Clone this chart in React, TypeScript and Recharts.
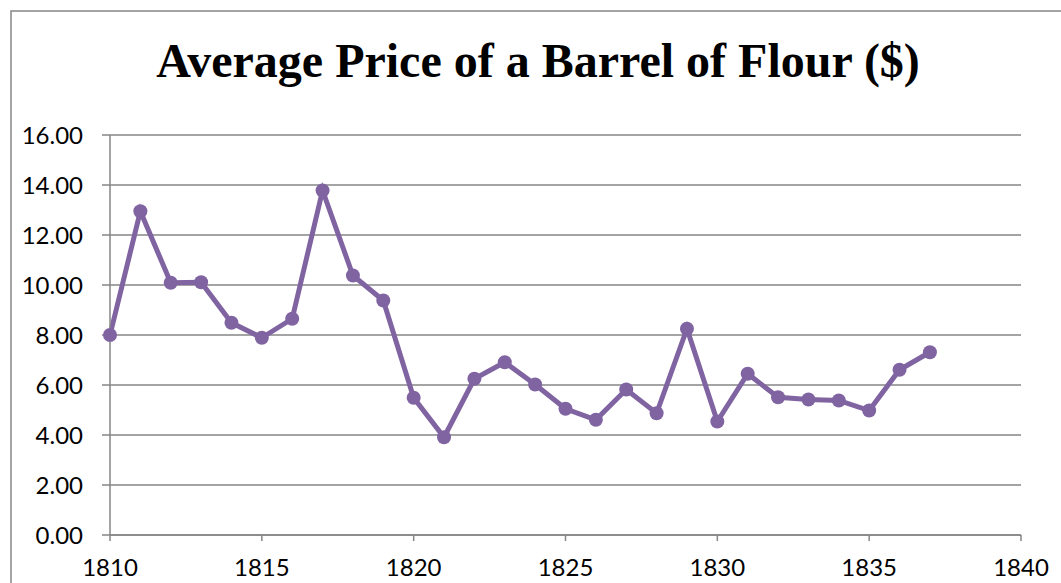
import { LineChart, Line, XAxis, YAxis, CartesianGrid } from "recharts"

const years = [
  1810, 1811, 1812, 1813, 1814, 1815, 1816, 1817, 1818, 1819, 1820, 1821, 1822, 1823,
  1824, 1825, 1826, 1827, 1828, 1829, 1830, 1831, 1832, 1833, 1834, 1835, 1836, 1837,
]
const prices = [
  8.0, 12.95, 10.09, 10.11, 8.49, 7.89, 8.65, 13.78, 10.38, 9.38, 5.49, 3.91, 6.25, 6.91,
  6.02, 5.05, 4.61, 5.82, 4.87, 8.25, 4.54, 6.45, 5.51, 5.42, 5.38, 4.98, 6.61, 7.31,
]
const yTicks = [0, 2, 4, 6, 8, 10, 12, 14, 16]
const xTicks = [1810, 1815, 1820, 1825, 1830, 1835, 1840]
const title = "Average Price of a Barrel of Flour ($)"

const chartData = years.map((year, i) => ({ year, price: prices[i] }))

const gray = "#868686"
const purple = "#8064A2"
const tickFont = { fontFamily: "Lato", fontSize: 24, fill: "#000" }

export default function App() {
  return (
    <div style={{ position: "absolute", left: 0, top: 0, width: 1061, height: 583, background: "#fff", overflow: "hidden" }}>
      <svg width={1061} height={583} style={{ position: "absolute", left: 0, top: 0 }}>
        <rect x={11} y={11} width={1200} height={800} fill="none" stroke={gray} strokeWidth={1.5} />
        <text x={538} y={77} textAnchor="middle" fontFamily="Liberation Serif" fontWeight="bold" fontSize={48} fill="#000">
          {title}
        </text>
      </svg>
      <div style={{ position: "absolute", left: 0, top: 0 }}>
        <LineChart width={1061} height={583} data={chartData} margin={{ top: 135, right: 40, bottom: 0, left: 0 }}>
          <CartesianGrid vertical={false} stroke={gray} strokeWidth={1.5} />
          <XAxis
            dataKey="year"
            type="number"
            domain={[1810, 1840]}
            ticks={xTicks}
            height={48}
            tickSize={6}
            tickMargin={18}
            tick={tickFont}
            stroke={gray}
            strokeWidth={1.5}
            interval={0}
          />
          <YAxis
            domain={[0, 16]}
            ticks={yTicks}
            width={110}
            tickSize={8}
            tickMargin={19}
            tick={tickFont}
            tickFormatter={(v: number) => v.toFixed(2)}
            stroke={gray}
            strokeWidth={1.5}
            interval={0}
          />
          <Line
            dataKey="price"
            stroke={purple}
            strokeWidth={5}
            dot={{ r: 7, fill: purple, stroke: "none" }}
            isAnimationActive={false}
          />
        </LineChart>
      </div>
    </div>
  )
}
